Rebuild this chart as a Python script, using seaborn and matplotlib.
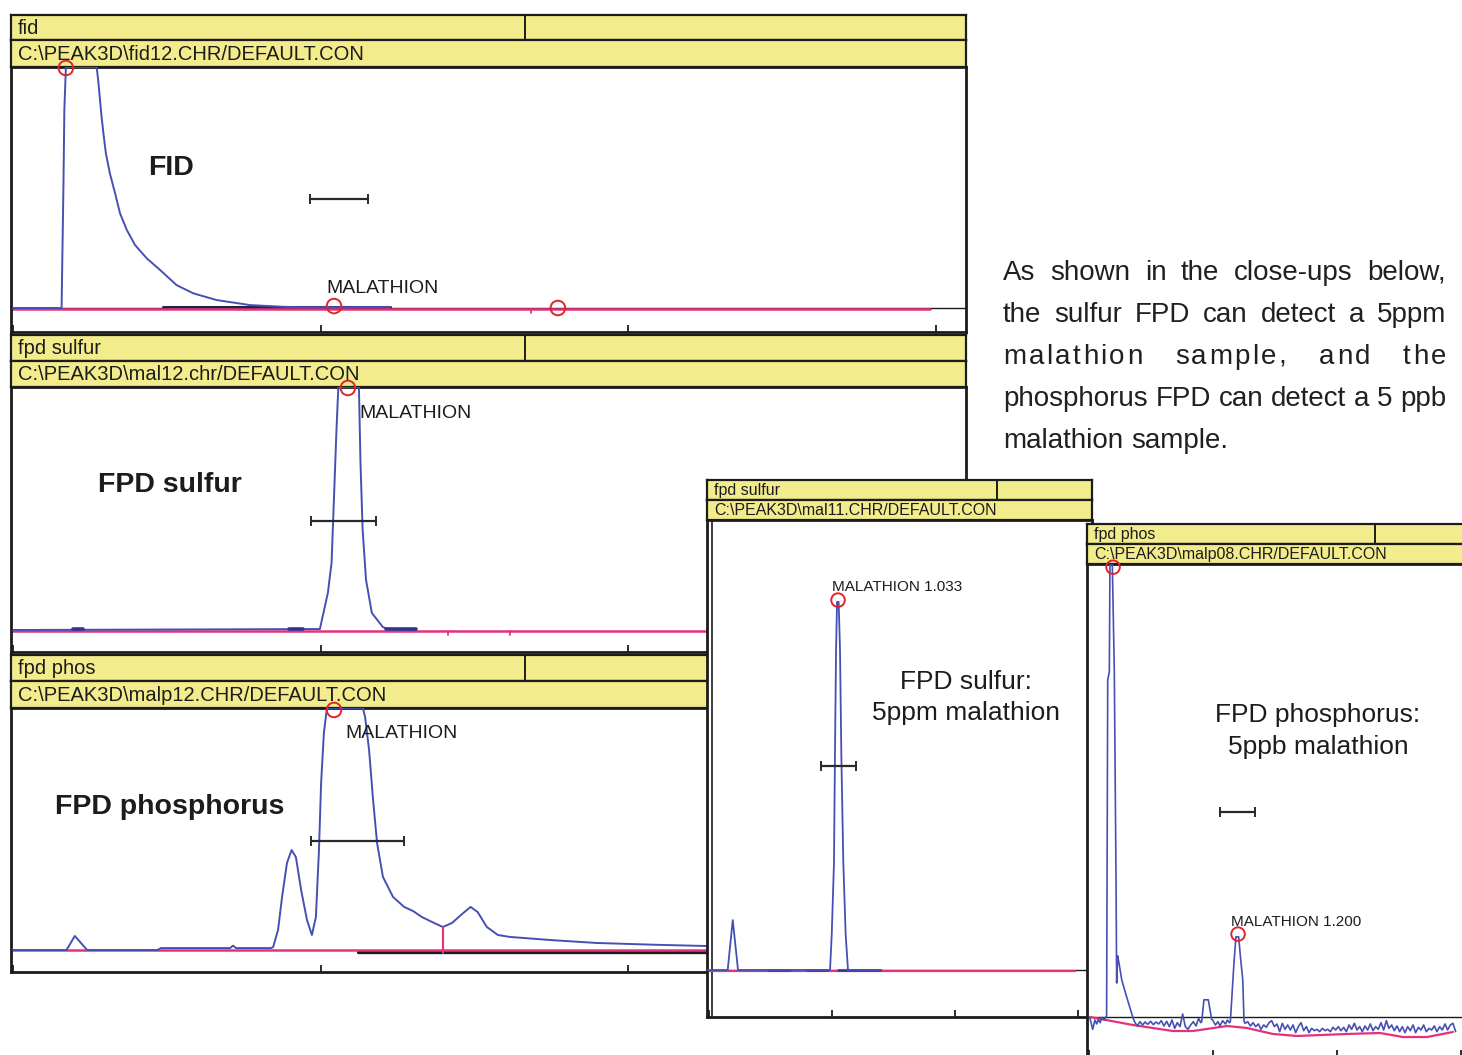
import matplotlib
matplotlib.use("Agg")
import matplotlib.pyplot as plt
import seaborn as sns

# ======================= DATA (time in min, response in % of full scale) =======================
# --- FID panel ---
fid_time = [0.000, 0.158, 0.160, 0.164, 0.167, 0.172, 0.272, 0.277, 0.283, 0.288,
            0.294, 0.302, 0.315, 0.332, 0.348, 0.370, 0.397, 0.435, 0.478, 0.532,
            0.586, 0.662, 0.771, 0.879, 0.933, 1.226]
fid_resp = [0.0, 0.0, 17.1, 50.3, 82.2, 100.0, 100.0, 94.6, 86.3, 79.4,
            72.5, 64.2, 55.9, 47.6, 39.3, 32.4, 26.1, 20.6, 15.8, 9.5,
            6.1, 3.3, 1.2, 0.5, 0.3, 0.4]
fid_peak_time = [0.172, 1.044, 1.772]
fid_peak_resp = [99.6, 0.8, 0.0]
fid_width_time = [0.966, 1.154]
fid_width_resp = 45.2
fid_base_time = [0.000, 2.982]
fid_dark_time = [0.488, 1.226]
fid_tick_time = [1.685]

# --- FPD sulfur panel ---
sul_time = [0.000, 0.998, 1.024, 1.036, 1.044, 1.052, 1.058, 1.119, 1.125, 1.130,
            1.137, 1.148, 1.167, 1.203, 1.220, 1.311]
sul_resp = [0.0, 0.4, 15.3, 27.7, 55.0, 82.6, 100.0, 100.0, 100.0, 69.0,
            41.3, 20.7, 7.0, 1.2, 0.4, 0.0]
sul_peak_time = [1.089]
sul_peak_resp = [99.6]
sul_width_time = [0.969, 1.182]
sul_width_resp = 44.9
sul_blip_start = [0.195, 0.898, 1.213]
sul_blip_end = [0.228, 0.943, 1.311]
sul_tick_time = [1.415, 1.616]

# --- FPD phosphorus panel ---
phos_time = [0.000, 0.174, 0.201, 0.241, 0.470, 0.481, 0.706, 0.716, 0.725, 0.839,
             0.846, 0.862, 0.875, 0.891, 0.906, 0.920, 0.937, 0.956, 0.972, 0.985,
             0.995, 1.002, 1.011, 1.021, 1.138, 1.145, 1.158, 1.171, 1.184, 1.203,
             1.236, 1.272, 1.301, 1.330, 1.369, 1.398, 1.428, 1.457, 1.488, 1.511,
             1.541, 1.577, 1.616, 1.750, 1.899, 2.107, 2.257, 2.400]
phos_resp = [0.0, 0.0, 5.8, 0.0, 0.0, 0.8, 0.8, 1.8, 0.8, 0.8,
             1.2, 8.3, 21.9, 36.0, 41.3, 38.4, 24.8, 12.4, 6.2, 13.6,
             41.3, 69.0, 89.7, 100.0, 100.0, 96.3, 82.6, 62.0, 44.2, 30.2,
             21.9, 17.8, 16.1, 13.6, 11.2, 9.5, 11.2, 14.5, 17.8, 15.7,
             9.5, 6.2, 5.4, 4.1, 2.9, 2.1, 1.65, 1.5]
phos_peak_time = [1.044]
phos_peak_resp = [99.2]
phos_width_time = [0.969, 1.272]
phos_width_resp = 45.0
phos_split_time = 1.398
phos_split_resp = [9.5, -1.2]
phos_dark_time = [1.122, 3.100]

# --- close-up: FPD sulfur, 5 ppm malathion ---
s5_time = [-0.020, 0.152, 0.193, 0.236, 0.984, 0.998, 1.016, 1.024, 1.033, 1.041,
           1.054, 1.065, 1.076, 1.092, 1.111, 1.130, 1.400]
s5_resp = [0.0, 0.0, 11.1, 0.0, 0.0, 8.0, 23.8, 47.6, 71.3, 81.8,
           81.8, 71.3, 47.6, 23.8, 8.0, 0.0, 0.0]
s5_peak_time = [1.049]
s5_peak_resp = [82.2]
s5_width_time = [0.908, 1.193]
s5_width_resp = 45.3
s5_base_time = [-0.016, 2.976]
s5_dash_start = [0.480, 0.800, 1.050]
s5_dash_end = [0.660, 0.960, 1.390]

# --- close-up: FPD phosphorus, 5 ppb malathion ---
p5_time = [0.008, 0.030, 0.048, 0.062, 0.075, 0.089, 0.105, 0.121, 0.142,
           0.151, 0.164, 0.169, 0.188, 0.204, 0.218, 0.223, 0.231, 0.242, 0.264, 0.304, 0.355,
           0.371, 0.390, 0.411, 0.433, 0.452, 0.473, 0.497, 0.519, 0.540, 0.562,
           0.583, 0.605, 0.626, 0.648, 0.669, 0.691, 0.712, 0.734, 0.755, 0.777,
           0.798, 0.820, 0.841, 0.863, 0.884, 0.901,
           0.909, 0.927, 0.962, 0.989,
           0.997, 1.019, 1.040, 1.056, 1.078, 1.100, 1.116, 1.132,
           1.140, 1.169, 1.185, 1.207, 1.223, 1.240, 1.250,
           1.258, 1.280, 1.301, 1.323, 1.344, 1.366, 1.387, 1.409, 1.430, 1.452,
           1.473, 1.495, 1.516, 1.538, 1.559, 1.581, 1.602, 1.624, 1.645, 1.667,
           1.688, 1.710, 1.731, 1.753, 1.774, 1.796, 1.817, 1.839, 1.860, 1.882,
           1.903, 1.925, 1.946, 1.968, 1.989, 2.011, 2.032, 2.054, 2.075, 2.097,
           2.118, 2.140, 2.161, 2.183, 2.204, 2.226, 2.247, 2.269, 2.290, 2.312,
           2.333, 2.355, 2.376, 2.398, 2.419, 2.441, 2.462, 2.484, 2.505, 2.527,
           2.548, 2.570, 2.591, 2.613, 2.634, 2.656, 2.677, 2.699, 2.720, 2.742,
           2.763, 2.785, 2.806, 2.828, 2.849, 2.871, 2.892, 2.914, 2.935, 2.957]
p5_resp = [-0.29, -2.72, -0.66, -1.54, -0.51, -1.25, -0.07, -0.66, 0.22,
           74.4, 76.2, 100.0, 100.0, 76.6, 30.2, 7.5, 13.5, 11.9, 8.2, 4.4, -0.2,
           -1.25, -1.98, -1.03, -1.76, -1.10, -1.62, -0.95, -1.69, -1.10, -1.54,
           -0.81, -1.98, -0.95, -2.13, -0.66, -2.50, -1.25, -2.13, 0.66, -2.13,
           -2.72, -1.76, -1.03, -1.98, -0.29, -1.25,
           -1.0, 3.8, 3.8, -0.5,
           -0.66, -1.76, -1.03, -1.98, -0.81, -1.54, -0.66, -1.25,
           -1.0, 11.9, 17.7, 17.7, 12.8, 8.2, -0.9,
           -1.40, -1.03, -1.98, -1.25, -2.13, -1.54, -2.72, -1.76, -2.28, -1.25,
           -0.81, -2.13, -1.54, -3.24, -1.40, -2.72, -1.76, -2.87, -1.76, -3.46,
           -2.13, -1.25, -3.01, -2.13, -3.46, -2.50, -3.01, -2.72, -3.24, -2.50,
           -3.01, -2.72, -3.24, -2.28, -2.87, -2.13, -3.01, -2.28, -3.24, -1.76,
           -2.72, -1.40, -2.87, -2.13, -3.24, -1.98, -2.87, -1.54, -3.01, -2.13,
           -2.72, -1.25, -2.87, -0.81, -2.50, -1.76, -3.01, -1.98, -3.24, -2.13,
           -3.46, -2.13, -3.01, -1.76, -3.46, -2.28, -2.87, -1.76, -3.24, -2.50,
           -2.87, -1.98, -3.24, -2.13, -2.87, -1.54, -2.87, -1.76, -1.40, -3.24]
p5_peak_time = [0.194, 1.202]
p5_peak_resp = [99.3, 18.3]
p5_width_time = [1.056, 1.339]
p5_width_resp = 45.3
p5_base_time = [0.008, 0.355, 0.677, 0.839, 1.113, 1.274, 1.484, 1.677, 2.081, 2.347, 2.532, 2.726, 2.935]
p5_base_resp = [0.0, -1.77, -3.09, -3.09, -1.99, -2.43, -3.75, -4.19, -3.75, -3.53, -4.42, -4.42, -3.31]

axis_ticks = [0, 1, 2, 3]

# texts
header_titles = ["fid", "fpd sulfur", "fpd phos", "fpd sulfur", "fpd phos"]
header_paths = ["C:\\PEAK3D\\fid12.CHR/DEFAULT.CON", "C:\\PEAK3D\\mal12.chr/DEFAULT.CON",
                "C:\\PEAK3D\\malp12.CHR/DEFAULT.CON", "C:\\PEAK3D\\mal11.CHR/DEFAULT.CON",
                "C:\\PEAK3D\\malp08.CHR/DEFAULT.CON"]
panel_labels = ["FID", "FPD sulfur", "FPD phosphorus"]
closeup_labels = [("FPD sulfur:", "5ppm malathion"), ("FPD phosphorus:", "5ppb malathion")]
peak_names = ["MALATHION", "MALATHION", "MALATHION", "MALATHION 1.033", "MALATHION 1.200"]
paragraph = ["As shown in the close-ups below,",
             "the sulfur FPD can detect a 5ppm",
             "malathion sample, and the",
             "phosphorus FPD can detect a 5 ppb",
             "malathion sample."]
para_justify = [True, True, True, True, False]
para_letter_px = [0.0, 0.0, 2.4, 0.0, 0.0]

# ======================= STYLE / LAYOUT =======================
sns.set_theme(style="white")
plt.rcParams["font.family"] = ["Liberation Sans", "DejaVu Sans"]

W, H = 1462, 1055
BLUE = "#4650B4"
DARKBLUE = "#34348C"
PINK = "#E6317A"
RED = "#E0242B"
YEL = "#F3EC8C"
INK = "#1C1C1C"
PTXT = "#231F20"

fig = plt.figure(figsize=(W / 100, H / 100), dpi=100)
fig.patch.set_facecolor("white")


def px_axes(x0, y0, x1, y1):
    return fig.add_axes([x0 / W, 1 - y1 / H, (x1 - x0) / W, (y1 - y0) / H])


def frame(ax, lw):
    for s in ax.spines.values():
        s.set_visible(True)
        s.set_color(INK)
        s.set_linewidth(lw)


def header(x0, x1, y0, ym, y1, xdiv, title, path, fs):
    for (ya, yb, txt, div) in [(y0, ym, title, True), (ym, y1, path, False)]:
        h = px_axes(x0, ya, x1, yb)
        h.set_facecolor(YEL)
        h.set_xticks([])
        h.set_yticks([])
        h.set_xlim(0, 1)
        h.set_ylim(0, 1)
        frame(h, 1.6)
        if div:
            h.axvline((xdiv - x0) / (x1 - x0), color=INK, lw=1.4)
        h.text(7 / (x1 - x0), 0.47, txt, fontsize=fs, va="center", ha="left", color=INK)


def plot_axes(x0, x1, y0, y1, xlim, ylim):
    ax = px_axes(x0, y0, x1, y1)
    ax.set_facecolor("white")
    frame(ax, 2.0)
    return ax, xlim, ylim


def finish(ax, xlim, ylim):
    ax.set_xlim(*xlim)
    ax.set_ylim(*ylim)
    ax.set_xticks(axis_ticks)
    ax.set_yticks([])
    ax.tick_params(axis="x", which="both", direction="in", length=5, width=1.3,
                   colors=INK, bottom=True, top=False, labelbottom=False)
    ax.set_xlabel("")
    ax.set_ylabel("")


def line(ax, t, v, color=BLUE, lw=1.3, z=3, **kw):
    n = min(len(t), len(v))
    sns.lineplot(x=list(t[:n]), y=list(v[:n]), ax=ax, color=color, linewidth=lw,
                 estimator=None, sort=False, zorder=z, legend=False, **kw)


def circles(ax, t, v, s=110):
    sns.scatterplot(x=t, y=v, ax=ax, s=s, color="none", edgecolor=RED,
                    linewidth=1.4, zorder=6, legend=False)
    ax.collections[-1].set_clip_on(False)


def halfwidth(ax, t, lev):
    line(ax, t, [lev, lev], color="#2a2a2a", lw=1.6, z=4, marker="|",
         markersize=7, markeredgewidth=1.4, markeredgecolor="#2a2a2a")


def px_text(ax, x, y, s, **kw):
    ax.text(x / W, 1 - y / H, s, transform=fig.transFigure, **kw)


LX0, LX1 = 11, 966
left_xlim = ((LX0 - 13) / 307.5, (LX1 - 13) / 307.5)

# ---------------- Panel A : FID ----------------
header(LX0, LX1, 15, 40, 67, 525, header_titles[0], header_paths[0], 14.5)
ax, xl, yl = plot_axes(LX0, LX1, 67, 332, left_xlim, (-9.96, 100))
ax.axhline(0.0, color=INK, lw=1.0, zorder=1)
line(ax, fid_dark_time, [0.3, 0.3], color="#222244", lw=2.2, z=2)
line(ax, fid_base_time, [-0.4, -0.4], color=PINK, lw=1.8, z=2)
line(ax, fid_time, fid_resp, color=BLUE, lw=1.4, z=3)
for tt in fid_tick_time:
    line(ax, [tt, tt], [-0.4, -2.1], color=PINK, lw=1.3, z=2)
halfwidth(ax, fid_width_time, fid_width_resp)
circles(ax, fid_peak_time, fid_peak_resp)
ax.text(1.018, 7.9, peak_names[0], fontsize=14, va="center", ha="left", color=INK)
px_text(ax, 148, 175, panel_labels[0], fontsize=20.5, fontweight="bold", va="baseline", color=INK)
finish(ax, xl, yl)

# ---------------- Panel B : FPD sulfur ----------------
header(LX0, LX1, 335, 361, 387, 525, header_titles[1], header_paths[1], 14.5)
ax, xl, yl = plot_axes(LX0, LX1, 387, 652, left_xlim, (-9.05, 100))
line(ax, [left_xlim[0], left_xlim[1]], [-0.3, -0.3], color=PINK, lw=1.8, z=2)
line(ax, sul_time, sul_resp, color=BLUE, lw=1.4, z=3)
for a, b in zip(sul_blip_start, sul_blip_end):
    line(ax, [a, b], [0.3, 0.3], color=DARKBLUE, lw=2.6, z=3)
for tt in sul_tick_time:
    line(ax, [tt, tt], [-0.3, -2.2], color=PINK, lw=1.3, z=2)
halfwidth(ax, sul_width_time, sul_width_resp)
circles(ax, sul_peak_time, sul_peak_resp)
ax.text(1.128, 89.3, peak_names[1], fontsize=14, va="center", ha="left", color=INK)
px_text(ax, 98, 492, panel_labels[1], fontsize=20.5, fontweight="bold", va="baseline", color=INK)
finish(ax, xl, yl)

# ---------------- Panel C : FPD phosphorus ----------------
header(LX0, LX1, 655, 681, 708, 525, header_titles[2], header_paths[2], 14.5)
ax, xl, yl = plot_axes(LX0, LX1, 708, 972, left_xlim, (-9.09, 100))
line(ax, phos_dark_time, [-0.8, -0.8], color=INK, lw=2.4, z=2)
line(ax, [left_xlim[0], left_xlim[1]], [0.0, 0.0], color=PINK, lw=1.8, z=2)
line(ax, phos_time, phos_resp, color=BLUE, lw=1.4, z=3)
line(ax, [phos_split_time, phos_split_time], phos_split_resp, color=PINK, lw=1.5, z=3)
halfwidth(ax, phos_width_time, phos_width_resp)
circles(ax, phos_peak_time, phos_peak_resp)
ax.text(1.080, 89.3, peak_names[2], fontsize=14, va="center", ha="left", color=INK)
px_text(ax, 55, 814, panel_labels[2], fontsize=20.5, fontweight="bold", va="baseline", color=INK)
finish(ax, xl, yl)

# ---------------- Close-up 1 : FPD sulfur 5 ppm ----------------
header(707, 1092, 480, 500, 520, 997, header_titles[3], header_paths[3], 11.5)
ax, xl, yl = plot_axes(707, 1092, 520, 1017, (-2 / 123, 383 / 123), (-10.44, 100))
ax.axvline(3 / 123, color=INK, lw=1.2, zorder=1)
ax.axhline(0.0, color=INK, lw=1.0, zorder=1)
line(ax, s5_base_time, [-0.2, -0.2], color=PINK, lw=1.6, z=2)
for a, b in zip(s5_dash_start, s5_dash_end):
    line(ax, [a, b], [0.0, 0.0], color=DARKBLUE, lw=1.8, z=3)
line(ax, s5_time, s5_resp, color=BLUE, lw=1.3, z=3)
halfwidth(ax, s5_width_time, s5_width_resp)
circles(ax, s5_peak_time, s5_peak_resp, s=95)
ax.text(1.0, 85.1, peak_names[3], fontsize=11, va="center", ha="left", color=INK)
px_text(ax, 966, 689, closeup_labels[0][0], fontsize=19, ha="center", va="baseline", color=INK)
px_text(ax, 966, 720, closeup_labels[0][1], fontsize=19, ha="center", va="baseline", color=INK)
finish(ax, xl, yl)

# ---------------- Close-up 2 : FPD phosphorus 5 ppb ----------------
header(1087, 1470, 524, 544, 564, 1375, header_titles[4], header_paths[4], 11.5)
ax, xl, yl = plot_axes(1087, 1470, 564, 1057, (-2 / 124, 381 / 124), (-8.83, 100))
ax.axhline(0.0, color=INK, lw=1.0, zorder=1)
line(ax, p5_base_time, p5_base_resp, color=PINK, lw=1.6, z=2)
line(ax, p5_time, p5_resp, color=BLUE, lw=1.2, z=3)
halfwidth(ax, p5_width_time, p5_width_resp)
circles(ax, p5_peak_time, p5_peak_resp, s=95)
ax.text(1.145, 21.0, peak_names[4], fontsize=11, va="center", ha="left", color=INK)
px_text(ax, 1318, 722, closeup_labels[1][0], fontsize=19, ha="center", va="baseline", color=INK)
px_text(ax, 1318, 754, closeup_labels[1][1], fontsize=19, ha="center", va="baseline", color=INK)
finish(ax, xl, yl)

# ---------------- Paragraph (justified) ----------------
PX0, PX1, PFS = 1003, 1446, 20
baselines = [279.5, 321.5, 363.5, 405.5, 447.5]
renderer = fig.canvas.get_renderer()
space_px = 0.278 * PFS * 100 / 72


def make_word(word, ls):
    """Return list of (artist, offset) and total width of a word with letter spacing ls."""
    if ls <= 0:
        a = fig.text(0, 0, word, fontsize=PFS, color=PTXT, va="baseline", ha="left")
        return [(a, 0.0)], a.get_window_extent(renderer=renderer).width
    parts, off = [], 0.0
    for i, ch in enumerate(word):
        a = fig.text(0, 0, ch, fontsize=PFS, color=PTXT, va="baseline", ha="left")
        w = a.get_window_extent(renderer=renderer).width
        parts.append((a, off))
        off += w + (ls if i < len(word) - 1 else 0.0)
    return parts, off


for txt, just, ls, yb in zip(paragraph, para_justify, para_letter_px, baselines):
    words = [make_word(w, ls) for w in txt.split(" ")]
    widths = [w for _, w in words]
    if just and len(words) > 1:
        gap = (PX1 - PX0 - sum(widths)) / (len(words) - 1)
    else:
        gap = space_px
    x = PX0
    for (parts, w) in words:
        for a, off in parts:
            a.set_position(((x + off) / W, 1 - yb / H))
        x += w + gap

fig.savefig("out.png", dpi=100)
